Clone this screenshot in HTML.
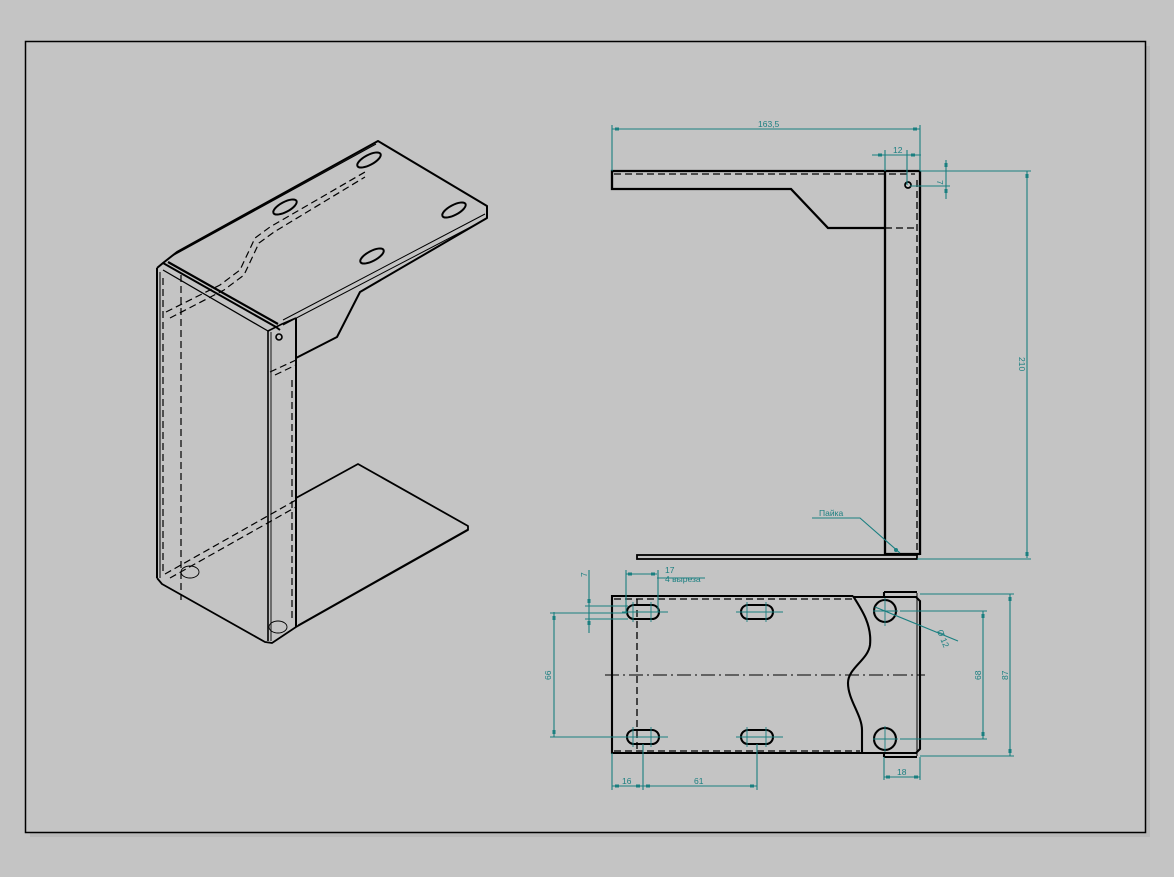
<!DOCTYPE html>
<html><head><meta charset="utf-8"><style>
html,body{margin:0;padding:0;background:#c4c4c4;}
svg{display:block;}
text{font-family:"Liberation Sans","DejaVu Sans",sans-serif;fill:#1a7f80;font-size:8.5px;}
</style></head><body>
<svg width="1174" height="877" viewBox="0 0 1174 877" xmlns="http://www.w3.org/2000/svg">
<rect x="0" y="0" width="1174" height="877" fill="#c4c4c4"/>
<rect x="30" y="46" width="1120" height="791" fill="#b9b9b9"/>
<rect x="25.5" y="41.5" width="1120" height="791" fill="#c4c4c4" stroke="#000" stroke-width="1.5"/>

<!-- ISOMETRIC -->
<g fill="none" stroke="#000" stroke-width="1.6" stroke-linejoin="round">
 <polyline points="163,263 177,252 378,141 487,206 487,218 360,292 337,337 296,358" stroke-width="2"/>
 <line x1="172" y1="256" x2="376" y2="144" stroke-width="1.2"/>
 <line x1="283" y1="320" x2="485" y2="214" stroke-width="1"/>
 <line x1="283" y1="325" x2="486" y2="219" stroke-width="1"/>
 <polyline points="157,268 163,263 276,327 280,330" stroke-width="2"/>
 <line x1="168" y1="262" x2="278" y2="324" stroke-width="2.2"/>
 <line x1="163" y1="270" x2="268" y2="331" stroke-width="1.3"/>
 <polyline points="268,331 282,324 296,318" />
 <line x1="157" y1="268" x2="157" y2="578" stroke-width="2"/>
 <line x1="160" y1="272" x2="160" y2="578" stroke-width="1"/>
 <polyline points="157,578 162,584 265,642 272,643 296,627 468,530 468,526 358,464 296,498" stroke-width="1.8"/>
 <line x1="268" y1="331" x2="268" y2="641"/>
 <line x1="271" y1="332" x2="271" y2="641" stroke-width="0.9"/>
 <line x1="296" y1="318" x2="296" y2="627" stroke-width="2"/>
 <line x1="298" y1="625" x2="468" y2="529" stroke-width="1"/>
 <g stroke-width="2">
  <ellipse cx="369" cy="160" rx="13" ry="5" transform="rotate(-28 369 160)"/>
  <ellipse cx="285" cy="207" rx="13" ry="5" transform="rotate(-28 285 207)"/>
  <ellipse cx="454" cy="210" rx="13" ry="5" transform="rotate(-28 454 210)"/>
  <ellipse cx="372" cy="256" rx="13" ry="5" transform="rotate(-28 372 256)"/>
 </g>
 <circle cx="279" cy="337" r="3"/>
</g>
<g fill="none" stroke="#000" stroke-width="1.2" stroke-dasharray="7,4">
 <line x1="181" y1="275" x2="181" y2="600"/>
 <line x1="163" y1="278" x2="163" y2="575"/>
 <polyline points="166,312 220,285 240,270 255,238 270,227 365,172"/>
 <polyline points="170,318 224,290 244,275 259,243 274,232 365,177"/>
 <line x1="165" y1="574" x2="296" y2="500"/>
 <line x1="170" y1="578" x2="296" y2="507"/>
 <line x1="270" y1="372" x2="296" y2="360"/>
 <line x1="275" y1="375" x2="296" y2="365"/>
 <line x1="292" y1="380" x2="292" y2="620"/>
</g>
<g fill="none" stroke="#000" stroke-width="0.9">
 <ellipse cx="190" cy="572" rx="9" ry="6"/>
 <ellipse cx="278" cy="627" rx="9" ry="6"/>
</g>

<!-- SIDE VIEW -->
<g fill="none" stroke="#000" stroke-width="2.3" stroke-linejoin="miter">
 <polyline points="920,171 612,171 612,189 791,189 828,228 885,228"/>
 <line x1="885" y1="171" x2="885" y2="555"/>
 <line x1="920" y1="171" x2="920" y2="555"/>
 <line x1="885" y1="554" x2="920" y2="554"/>
 <rect x="637" y="555" width="280" height="4" stroke-width="1.8"/>
 <circle cx="908" cy="185" r="3" stroke-width="1.7"/>
</g>
<g fill="none" stroke="#000" stroke-width="1.3" stroke-dasharray="7,4">
 <line x1="614" y1="174" x2="915" y2="174"/>
 <line x1="885" y1="228" x2="918" y2="228"/>
 <line x1="917" y1="180" x2="917" y2="552"/>
</g>

<!-- BOTTOM VIEW -->
<g fill="none" stroke="#000" stroke-width="2.1">
 <polyline points="853,596 612,596 612,753 862,753"/>
 <path d="M853,596 C862,610 872,625 870,645 C868,660 848,668 848,683 C848,700 862,715 862,730 L862,753"/>
 <polyline points="853,597 916,597 920,601 920,749 916,753 862,753"/>
 <line x1="884" y1="592" x2="884" y2="597"/>
 <line x1="884" y1="592" x2="917" y2="592"/>
 <line x1="884" y1="753" x2="884" y2="757"/>
 <line x1="884" y1="757" x2="917" y2="757"/>
 <line x1="917" y1="593" x2="917" y2="756" stroke-width="1"/>
 <rect x="627" y="605" width="32" height="14" rx="7"/>
 <rect x="741" y="605" width="32" height="14" rx="7"/>
 <rect x="627" y="730" width="32" height="14" rx="7"/>
 <rect x="741" y="730" width="32" height="14" rx="7"/>
 <circle cx="885" cy="611" r="11"/>
 <circle cx="885" cy="739" r="11"/>
</g>
<g fill="none" stroke="#000" stroke-width="1.3" stroke-dasharray="7,4">
 <line x1="614" y1="599" x2="852" y2="599"/>
 <line x1="614" y1="751" x2="860" y2="751"/>
 <line x1="637" y1="599" x2="637" y2="751"/>
</g>
<g fill="none" stroke="#000" stroke-width="1" stroke-dasharray="14,4,2,4">
 <line x1="605" y1="675" x2="925" y2="675"/>
</g>
<g stroke="#1a7f80" stroke-width="0.9" fill="none">
 <line x1="622" y1="612" x2="668" y2="612"/><line x1="736" y1="612" x2="783" y2="612"/>
 <line x1="622" y1="737" x2="668" y2="737"/><line x1="736" y1="737" x2="783" y2="737"/>
 <line x1="633" y1="602" x2="633" y2="622"/><line x1="651" y1="602" x2="651" y2="622"/>
 <line x1="747" y1="602" x2="747" y2="622"/><line x1="766" y1="602" x2="766" y2="622"/>
 <line x1="633" y1="727" x2="633" y2="747"/><line x1="651" y1="727" x2="651" y2="747"/>
 <line x1="747" y1="727" x2="747" y2="747"/><line x1="766" y1="727" x2="766" y2="747"/>
 <line x1="873" y1="611" x2="898" y2="611"/><line x1="885" y1="598" x2="885" y2="626"/>
 <line x1="873" y1="739" x2="898" y2="739"/><line x1="885" y1="726" x2="885" y2="752"/>
</g>

<!-- DIMENSIONS -->
<g stroke="#1a7f80" stroke-width="1.1" fill="none">
 <line x1="612" y1="125" x2="612" y2="171"/><line x1="920" y1="125" x2="920" y2="171"/>
 <line x1="612" y1="129" x2="920" y2="129"/>
 <line x1="872" y1="155" x2="921" y2="155"/>
 <line x1="885" y1="150" x2="885" y2="171"/><line x1="907" y1="150" x2="907" y2="185"/>
 <line x1="946" y1="160" x2="946" y2="199"/>
 <line x1="910" y1="186" x2="950" y2="186"/>
 <line x1="920" y1="171" x2="1031" y2="171"/>
 <line x1="1027" y1="171" x2="1027" y2="558"/>
 <line x1="917" y1="559" x2="1031" y2="559"/>
 <polyline points="812,518 860,518 900,553"/>
 <line x1="626" y1="574" x2="657" y2="574"/>
 <line x1="626" y1="570" x2="626" y2="612"/><line x1="658" y1="570" x2="658" y2="612"/>
 <line x1="657" y1="578" x2="705" y2="578"/>
 <line x1="589" y1="570" x2="589" y2="633"/>
 <line x1="585" y1="606" x2="628" y2="606"/><line x1="585" y1="619" x2="628" y2="619"/>
 <line x1="554" y1="612" x2="554" y2="737"/>
 <line x1="550" y1="613" x2="627" y2="613"/><line x1="550" y1="737" x2="627" y2="737"/>
 <line x1="612" y1="753" x2="612" y2="790"/><line x1="643" y1="744" x2="643" y2="790"/><line x1="757" y1="744" x2="757" y2="790"/>
 <line x1="612" y1="786" x2="643" y2="786"/><line x1="643" y1="786" x2="757" y2="786"/>
 <line x1="884" y1="757" x2="884" y2="780"/><line x1="920" y1="757" x2="920" y2="780"/>
 <line x1="884" y1="777" x2="920" y2="777"/>
 <line x1="900" y1="611" x2="987" y2="611"/><line x1="900" y1="739" x2="987" y2="739"/>
 <line x1="983" y1="611" x2="983" y2="739"/>
 <line x1="920" y1="594" x2="1014" y2="594"/><line x1="920" y1="756" x2="1014" y2="756"/>
 <line x1="1010" y1="594" x2="1010" y2="756"/>
 <line x1="875" y1="607" x2="958" y2="641"/>
</g>
<g fill="#1a7f80">
 <rect x="615" y="127.5" width="4" height="3"/><rect x="913" y="127.5" width="4" height="3"/>
 <rect x="878" y="153.5" width="4" height="3"/><rect x="911" y="153.5" width="4" height="3"/>
 <rect x="944.5" y="163" width="3" height="4"/><rect x="944.5" y="189" width="3" height="4"/>
 <rect x="1025.5" y="174" width="3" height="4"/><rect x="1025.5" y="552" width="3" height="4"/>
 <rect x="628" y="572.5" width="4" height="3"/><rect x="651" y="572.5" width="4" height="3"/>
 <rect x="587.5" y="599" width="3" height="4"/><rect x="587.5" y="621" width="3" height="4"/>
 <rect x="552.5" y="616" width="3" height="4"/><rect x="552.5" y="730" width="3" height="4"/>
 <rect x="615" y="784.5" width="4" height="3"/><rect x="636" y="784.5" width="4" height="3"/>
 <rect x="646" y="784.5" width="4" height="3"/><rect x="750" y="784.5" width="4" height="3"/>
 <rect x="886" y="775.5" width="4" height="3"/><rect x="914" y="775.5" width="4" height="3"/>
 <rect x="981.5" y="614" width="3" height="4"/><rect x="981.5" y="732" width="3" height="4"/>
 <rect x="1008.5" y="597" width="3" height="4"/><rect x="1008.5" y="749" width="3" height="4"/>
 <circle cx="896" cy="550" r="2"/>
</g>
<text x="758" y="127">163,5</text>
<text x="893" y="153">12</text>
<text x="937" y="180" transform="rotate(90 937 180)">7</text>
<text x="1019" y="357" transform="rotate(90 1019 357)">210</text>
<text x="819" y="516">Пайка</text>
<text x="665" y="573">17</text>
<text x="665" y="582">4 выреза</text>
<text x="587" y="577" transform="rotate(-90 587 577)">7</text>
<text x="551" y="680" transform="rotate(-90 551 680)">66</text>
<text x="622" y="784">16</text>
<text x="694" y="784">61</text>
<text x="897" y="775">18</text>
<text x="981" y="680" transform="rotate(-90 981 680)">68</text>
<text x="1008" y="680" transform="rotate(-90 1008 680)">87</text>
<text x="937" y="631" transform="rotate(68 937 631)">Ø 12</text>
</svg>
</body></html>
